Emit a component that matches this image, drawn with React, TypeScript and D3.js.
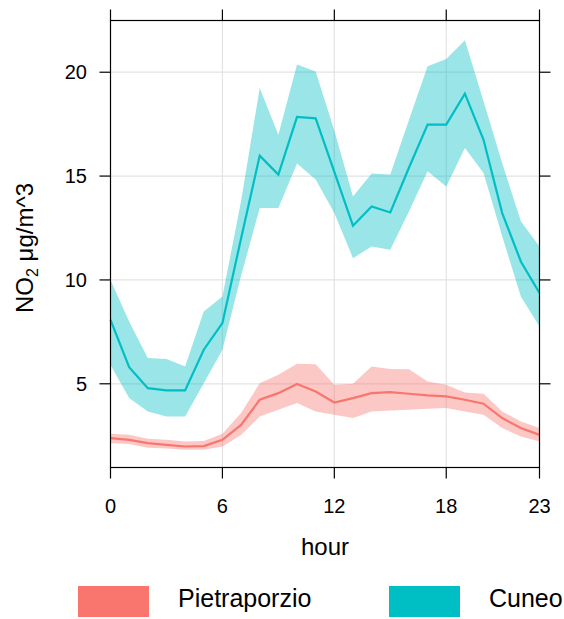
import * as d3 from 'd3';

const hours = [0, 1, 2, 3, 4, 5, 6, 7, 8, 9, 10, 11, 12, 13, 14, 15, 16, 17, 18, 19, 20, 21, 22, 23];

const pietraMean = [2.38, 2.3, 2.14, 2.06, 1.98, 2.0, 2.3, 3.02, 4.23, 4.55, 4.99, 4.63, 4.1, 4.31, 4.55, 4.6, 4.52, 4.44, 4.39, 4.23, 4.04, 3.35, 2.87, 2.54];
const pietraUpper = [2.59, 2.55, 2.35, 2.3, 2.22, 2.25, 2.6, 3.59, 5.03, 5.43, 5.96, 5.94, 4.95, 5.0, 5.83, 5.71, 5.7, 5.11, 4.95, 4.58, 4.52, 3.67, 3.18, 2.87];
const pietraLower = [2.14, 2.1, 1.92, 1.88, 1.82, 1.82, 1.98, 2.54, 3.42, 3.75, 4.07, 3.67, 3.51, 3.35, 3.67, 3.72, 3.75, 3.8, 3.83, 3.67, 3.51, 2.87, 2.46, 2.22];

const cuneoMean = [8.08, 5.8, 4.79, 4.68, 4.68, 6.64, 7.92, 12.0, 15.98, 15.07, 17.85, 17.78, 15.2, 12.61, 13.54, 13.25, 15.4, 17.48, 17.48, 18.97, 16.75, 13.22, 10.89, 9.37];
const cuneoUpper = [10.0, 8.0, 6.24, 6.19, 5.83, 8.48, 9.2, 13.8, 19.24, 16.99, 20.37, 20.04, 17.2, 14.02, 15.12, 15.07, 17.7, 20.29, 20.64, 21.54, 18.6, 15.63, 12.82, 11.61];
const cuneoLower = [5.91, 4.31, 3.67, 3.42, 3.42, 5.03, 6.64, 10.2, 13.46, 13.46, 15.6, 14.83, 13.22, 11.05, 11.61, 11.45, 13.3, 15.23, 14.5, 16.35, 15.15, 12.1, 9.2, 7.76];

const xTicks = [0, 6, 12, 18, 23];
const yTicks = [5, 10, 15, 20];
const seriesNames = ['Pietraporzio', 'Cuneo'];
const seriesColors = ['#F8766D', '#00BFC4'];

const font = 'Arial, "Liberation Sans", sans-serif';

const App = () => {
  const x = d3.scaleLinear().domain([0, 23]).range([110.5, 539.5]);
  const y = d3.scaleLinear().domain([0.97, 22.49]).range([467.5, 20.5]);
  const [x0, x1] = x.range();
  const [yb, yt] = y.range();

  const line = d3.line<number>().x((d, i) => x(hours[i])).y(d => y(d));
  const band = (lo: number[], hi: number[]) =>
    d3.area<number>()
      .x((d, i) => x(hours[i]))
      .y0((d, i) => y(lo[i]))
      .y1((d, i) => y(hi[i]))(hours);

  const series = [
    { mean: pietraMean, lo: pietraLower, hi: pietraUpper },
    { mean: cuneoMean, lo: cuneoLower, hi: cuneoUpper },
  ];

  const tickLen = 11;

  return (
    <svg width={564} height={619} style={{ position: 'absolute', left: 0, top: 0, display: 'block' }}>
      <rect x={0} y={0} width={564} height={619} fill="#fff" />
      {/* grid */}
      {xTicks.filter(t => t > 0 && t < 23).map(t => (
        <line key={'gx' + t} x1={x(t)} x2={x(t)} y1={yt} y2={yb} stroke="#e3e3e3" strokeWidth={1.2} />
      ))}
      {yTicks.map(t => (
        <line key={'gy' + t} x1={x0} x2={x1} y1={y(t)} y2={y(t)} stroke="#e3e3e3" strokeWidth={1.2} />
      ))}
      {/* bands */}
      {series.map((s, i) => (
        <path key={'b' + i} d={band(s.lo, s.hi) || ''} fill={seriesColors[i]} fillOpacity={0.4} stroke="none" />
      ))}
      {/* lines */}
      {series.map((s, i) => (
        <path key={'l' + i} d={line(s.mean) || ''} fill="none" stroke={seriesColors[i]} strokeWidth={2.2} />
      ))}
      {/* frame */}
      <rect x={x0} y={yt} width={x1 - x0} height={yb - yt} fill="none" stroke="#000" strokeWidth={1.2} />
      {xTicks.map(t => (
        <g key={'tx' + t}>
          <line x1={x(t)} x2={x(t)} y1={yb} y2={yb + tickLen} stroke="#000" strokeWidth={1.2} />
          <line x1={x(t)} x2={x(t)} y1={yt} y2={yt - tickLen} stroke="#000" strokeWidth={1.2} />
          <text x={x(t)} y={512.5} textAnchor="middle" fontFamily={font} fontSize={20} fill="#000">{t}</text>
        </g>
      ))}
      {yTicks.map(t => (
        <g key={'ty' + t}>
          <line x1={x0 - tickLen} x2={x0} y1={y(t)} y2={y(t)} stroke="#000" strokeWidth={1.2} />
          <line x1={x1} x2={x1 + tickLen} y1={y(t)} y2={y(t)} stroke="#000" strokeWidth={1.2} />
          <text x={87} y={y(t)} dy="0.35em" textAnchor="end" fontFamily={font} fontSize={20} fill="#000">{t}</text>
        </g>
      ))}
      {/* axis titles */}
      <text x={(x0 + x1) / 2} y={555} textAnchor="middle" fontFamily={font} fontSize={24} fill="#000">hour</text>
      <text transform="translate(33,248) rotate(-90)" textAnchor="middle" fontFamily={font} fontSize={24} fill="#000">
        NO<tspan fontSize={16} dy={5}>2</tspan><tspan dy={-5}> μg/m^3</tspan>
      </text>
      {/* legend */}
      {seriesNames.map((n, i) => {
        const lx = [78, 389][i];
        return (
          <g key={'lg' + i}>
            <rect x={lx} y={586} width={71} height={31} fill={seriesColors[i]} />
            <text x={lx + 100} y={603.5} dy="0.15em" fontFamily={font} fontSize={25} fill="#000">{n}</text>
          </g>
        );
      })}
    </svg>
  );
};

export default App;
